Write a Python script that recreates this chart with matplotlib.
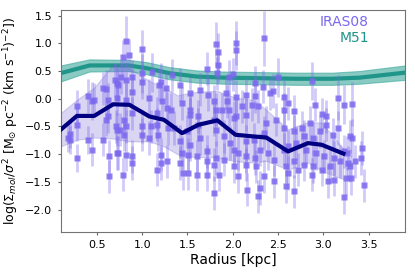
import matplotlib
matplotlib.use("Agg")
import matplotlib.pyplot as plt
import numpy as np

# IRAS08 individual measurements: radius [kpc], log value, error
rad = [0.28, 0.28, 0.20, 0.20, 0.28, 0.40, 0.45, 0.40, 0.45, 0.57, 0.60, 0.57, 0.62, 0.62, 0.63, 0.63,
       0.72, 0.72, 0.72, 0.72, 0.18, 0.77, 0.82, 0.70, 0.47, 0.60, 0.71,
       0.82, 0.79, 0.85, 1.00, 0.89, 0.73, 0.89, 0.82, 0.89, 0.80, 0.82, 0.75, 0.80, 0.73, 0.82, 0.89,
       0.89, 0.79, 1.00, 1.00, 1.00, 1.00, 1.08, 1.08, 1.11, 1.10, 1.16, 1.16, 1.17, 1.21, 1.19, 1.22,
       1.26, 1.27, 1.28, 1.21, 1.21, 1.27, 1.16, 1.33, 1.32, 1.35,
       1.81, 1.84, 1.84, 1.72, 1.83, 1.96, 1.42, 1.53, 1.44, 1.53, 1.64, 1.73, 1.79, 1.81, 1.92, 1.94,
       1.53, 1.62, 1.62, 1.64, 1.50, 1.42, 1.53, 1.44, 1.51, 1.42, 1.51, 1.61, 1.61, 1.72, 1.72, 1.72,
       1.81, 1.79, 1.85, 1.79, 1.88, 1.90, 1.90, 1.97, 1.96, 2.01, 2.01, 2.01, 1.79, 1.81, 1.45, 2.00,
       2.34, 2.04, 2.03, 2.50, 2.24, 2.33, 2.44, 2.15, 2.25, 2.03, 2.41, 2.10, 2.21, 2.28, 2.56, 2.56,
       2.48, 2.37, 2.15, 2.04, 2.56, 2.14, 2.23, 2.30, 2.06, 2.15, 2.25, 2.39, 2.45, 2.56, 2.59, 2.61,
       2.14, 2.26, 2.06, 2.34, 2.45, 2.30, 2.16, 2.28, 2.59, 2.61, 2.34, 2.61,
       2.87, 3.16, 2.91, 3.23, 2.68, 2.98, 3.03, 2.85, 2.76, 3.03, 2.96, 2.68, 2.79, 2.89, 3.11, 3.16,
       3.29, 2.70, 2.81, 2.92, 3.01, 3.12, 3.23, 2.68, 2.79, 2.89, 2.98, 3.07, 3.18, 3.27, 2.72, 2.87,
       3.05, 3.12, 3.25, 2.68, 3.23,
       3.31, 3.31, 3.42, 3.26, 3.35, 3.41, 3.29, 3.30, 3.45]
val = [-0.14, -0.47, -0.63, -0.75, -1.07, 0.05, -0.04, -0.74, -0.92, 0.19, 0.17, -0.74, -0.02, -0.32, -1.04, -1.40,
       0.28, 0.01, -0.56, -0.98, -0.71, 0.39, 0.34, 0.34, -0.02, -0.38, -0.50,
       1.04, 0.75, 0.78, 0.89, 0.39, 0.25, 0.13, -0.02, -0.26, -0.38, -0.50, -0.56, -0.65, -0.98, -1.01, -1.04,
       -1.16, -1.37, 0.46, 0.30, -0.50, -0.65, 0.01, -0.71, 0.48, -0.50, -0.26, -0.47, -0.65, 0.30, 0.25, -0.05,
       0.19, -0.17, -0.53, -1.01, -1.16, -1.13, -1.28, 0.42, -0.20, -0.53,
       0.98, 0.84, 0.60, 0.54, 0.46, 0.39, 0.25, 0.10, -0.08, -0.20, 0.16, 0.07, -0.05, -0.20, 0.10, -0.05,
       -0.29, -0.32, -0.47, -0.71, -0.59, -0.77, -0.83, -0.98, -1.01, -1.16, -1.34, -1.04, -1.37, -0.95, -1.13, -1.37,
       -1.07, -1.19, -1.37, -1.70, -0.20, -0.68, -1.10, -0.80, -0.20, -0.35, -0.92, -1.22, -0.38, -0.56, -1.34, 0.44,
       1.09, 1.01, 0.87, 0.39, 0.29, 0.22, 0.14, 0.07, 0.05, 0.04, 0.10, -0.14, -0.11, -0.14, 0.04, -0.20,
       -0.38, -0.44, -0.29, -0.32, -0.53, -0.77, -0.74, -0.92, -0.98, -1.04, -1.07, -0.98, -1.10, -0.92, -1.22, -1.34,
       -1.19, -1.22, -1.40, -1.40, -1.49, -1.61, -1.64, -1.76, -1.58, -0.86, -0.62, -0.08,
       0.32, 0.02, -0.11, -0.11, -0.23, -0.28, -0.32, -0.44, -0.53, -0.47, -0.59, -0.59, -0.68, -0.71, -0.65, -0.53,
       -0.68, -0.80, -0.92, -0.98, -1.04, -1.07, -0.95, -1.13, -1.19, -1.22, -1.28, -1.22, -1.13, -1.16, -1.28, -1.37,
       -1.49, -1.46, -1.43, -1.67, -1.77,
       -0.10, -0.71, -0.89, -0.98, -1.13, -1.07, -1.21, -1.43, -1.56]
err = [0.30, 0.30, 0.25, 0.25, 0.25, 0.30, 0.35, 0.25, 0.30, 0.30, 0.35, 0.30, 0.30, 0.30, 0.30, 0.30,
       0.30, 0.30, 0.30, 0.30, 0.25, 0.30, 0.30, 0.30, 0.30, 0.30, 0.30,
       0.45, 0.30, 0.30, 0.35, 0.30, 0.30, 0.30, 0.30, 0.30, 0.30, 0.30, 0.30, 0.30, 0.30, 0.30, 0.30,
       0.30, 0.30, 0.35, 0.30, 0.30, 0.30, 0.35, 0.30, 0.35, 0.30, 0.30, 0.30, 0.30, 0.35, 0.30, 0.30,
       0.30, 0.30, 0.30, 0.30, 0.30, 0.30, 0.30, 0.30, 0.30, 0.30,
       0.40, 0.35, 0.30, 0.30, 0.30, 0.30, 0.30, 0.30, 0.30, 0.30, 0.30, 0.30, 0.30, 0.30, 0.30, 0.30,
       0.30, 0.30, 0.30, 0.30, 0.30, 0.30, 0.30, 0.30, 0.30, 0.30, 0.30, 0.30, 0.30, 0.30, 0.30, 0.30,
       0.30, 0.30, 0.30, 0.30, 0.30, 0.30, 0.30, 0.30, 0.30, 0.30, 0.30, 0.30, 0.30, 0.30, 0.30, 0.30,
       0.50, 0.40, 0.35, 0.35, 0.30, 0.30, 0.30, 0.30, 0.30, 0.30, 0.30, 0.30, 0.30, 0.30, 0.30, 0.30,
       0.30, 0.30, 0.30, 0.30, 0.30, 0.30, 0.30, 0.30, 0.30, 0.30, 0.30, 0.30, 0.30, 0.30, 0.30, 0.30,
       0.30, 0.30, 0.30, 0.30, 0.30, 0.30, 0.30, 0.30, 0.30, 0.30, 0.30, 0.30,
       0.35, 0.40, 0.30, 0.35, 0.30, 0.30, 0.30, 0.30, 0.30, 0.30, 0.30, 0.30, 0.30, 0.30, 0.30, 0.30,
       0.30, 0.30, 0.30, 0.30, 0.30, 0.30, 0.30, 0.30, 0.30, 0.30, 0.30, 0.30, 0.30, 0.30, 0.30, 0.30,
       0.30, 0.30, 0.30, 0.30, 0.30,
       0.40, 0.35, 0.30, 0.30, 0.30, 0.30, 0.30, 0.30, 0.30]

# IRAS08 binned median and spread
bin_r = [0.10, 0.28, 0.47, 0.68, 0.86, 1.08, 1.24, 1.39, 1.44, 1.62, 1.83, 2.03, 2.23, 2.37, 2.61, 2.83, 2.98, 3.22]
bin_med = [-0.56, -0.31, -0.31, -0.10, -0.11, -0.32, -0.38, -0.56, -0.62, -0.47, -0.39, -0.65, -0.68, -0.70, -0.95, -0.80, -0.83, -0.99]
bin_hi = [-0.26, -0.02, 0.20, 0.62, 0.55, 0.32, 0.20, 0.06, 0.08, 0.13, 0.14, 0.02, -0.02, -0.20, -0.55, -0.42, -0.43, -0.90]
bin_lo = [-0.86, -0.74, -0.70, -0.72, -0.77, -0.77, -0.86, -1.00, -1.04, -1.05, -1.06, -1.13, -1.15, -1.12, -1.28, -1.15, -1.30, -1.45]

# M51 comparison profile
m51_r = [0.10, 0.42, 0.85, 1.05, 1.30, 1.60, 1.90, 2.30, 2.70, 3.10, 3.40, 3.90]
m51_med = [0.46, 0.60, 0.60, 0.55, 0.46, 0.40, 0.38, 0.37, 0.36, 0.36, 0.38, 0.47]
m51_hi = [0.60, 0.71, 0.70, 0.66, 0.57, 0.51, 0.49, 0.48, 0.47, 0.47, 0.50, 0.60]
m51_lo = [0.31, 0.49, 0.50, 0.44, 0.35, 0.29, 0.27, 0.26, 0.25, 0.25, 0.27, 0.34]

purple = '#7b68ee'
teal = '#20958a'

fig = plt.figure(figsize=(4.15, 2.77), dpi=100)
ax = fig.add_axes([0.146, 0.163, 0.830, 0.801])

ax.fill_between(m51_r, m51_lo, m51_hi, color='#3aa89b', alpha=0.6, lw=0.8, zorder=1)
ax.plot(m51_r, m51_med, color=teal, lw=3, zorder=2)

ax.fill_between(bin_r, bin_lo, bin_hi, color='#6a5acd', alpha=0.25, lw=0.8, zorder=2)

ax.errorbar(rad, val, yerr=err, fmt='none', ecolor=purple, alpha=0.35, elinewidth=2, zorder=3)
ax.plot(rad, val, 's', color=purple, ms=4.5, alpha=0.85, mec='none', zorder=4)

ax.plot(bin_r, bin_med, color='#000080', lw=3, zorder=5)

ax.text(0.895, 0.946, 'IRAS08', color=purple, fontsize=10, ha='right', va='center', transform=ax.transAxes)
ax.text(0.895, 0.874, 'M51', color=teal, fontsize=10, ha='right', va='center', transform=ax.transAxes)

ax.set_xlim(0.1, 3.9)
ax.set_ylim(-2.4, 1.6)
ax.set_xticks([0.5, 1.0, 1.5, 2.0, 2.5, 3.0, 3.5])
ax.set_yticks([-2.0, -1.5, -1.0, -0.5, 0.0, 0.5, 1.0, 1.5])
ax.tick_params(labelsize=8, length=2.5, color='0.4')
for s in ax.spines.values():
    s.set_color('0.45')
ax.set_xlabel('Radius [kpc]', fontsize=10, labelpad=2)
ax.set_ylabel(r'log($\Sigma_{mol}/\sigma^2$ [M$_{\odot}$ pc$^{-2}$ (km s$^{-1}$)$^{-2}$])', fontsize=9, labelpad=3)

fig.savefig('out.png', dpi=100)
